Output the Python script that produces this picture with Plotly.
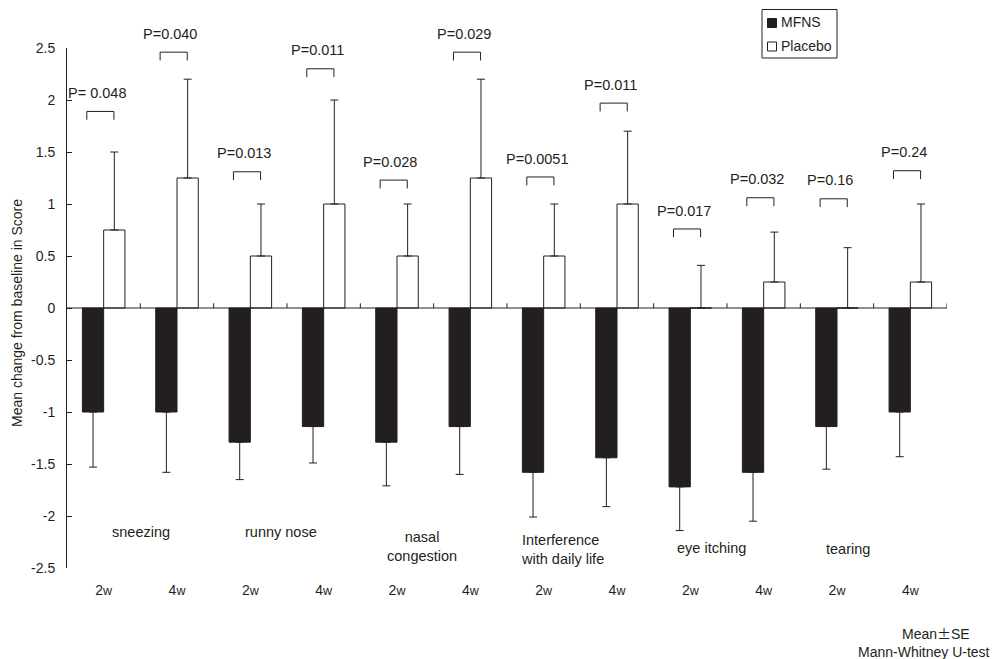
import plotly.graph_objects as go

# Symptom score change from baseline, MFNS vs placebo, at 2 and 4 weeks
time_labels = ["2w", "4w"] * 6
symptoms = ["sneezing", "runny nose", "nasal<br>congestion",
            "Interference<br>with daily life", "eye itching", "tearing"]

mfns_mean = [-1.0, -1.0, -1.29, -1.14, -1.29, -1.14, -1.58, -1.44, -1.72, -1.58, -1.14, -1.0]
mfns_se = [0.53, 0.58, 0.36, 0.35, 0.42, 0.46, 0.43, 0.47, 0.42, 0.47, 0.41, 0.43]

placebo_mean = [0.75, 1.25, 0.5, 1.0, 0.5, 1.25, 0.5, 1.0, 0.0, 0.25, 0.0, 0.25]
placebo_se = [0.75, 0.95, 0.5, 1.0, 0.5, 0.95, 0.5, 0.70, 0.41, 0.48, 0.58, 0.75]

p_values = ["P= 0.048", "P=0.040", "P=0.013", "P=0.011", "P=0.028", "P=0.029",
            "P=0.0051", "P=0.011", "P=0.017", "P=0.032", "P=0.16", "P=0.24"]
bracket_level = [1.89, 2.46, 1.31, 2.30, 1.23, 2.46, 1.26, 1.97, 0.76, 1.06, 1.05, 1.32]

y_ticks = [2.5, 2, 1.5, 1, 0.5, 0, -0.5, -1, -1.5, -2, -2.5]
y_ticktext = ["2.5", "2", "1.5", "1", "0.5", "0", "-0.5", "-1", "-1.5", "-2", "-2.5"]

INK = "#231f20"
FONT = "Liberation Sans, Arial, Helvetica, sans-serif"
W, H = 994, 659
ML, MR, MT, MB = 67, 47, 48, 91
Y_MIN, Y_MAX = -2.5, 2.5

x = list(range(len(time_labels)))


def paper_x(px):
    return (px - ML) / (W - ML - MR)


def paper_y(py):
    return (H - MB - py) / (H - MT - MB)


def value_to_paper(v):
    return (v - Y_MIN) / (Y_MAX - Y_MIN)


fig = go.Figure()
fig.add_trace(go.Bar(
    x=x, y=mfns_mean, name="MFNS",
    marker=dict(color=INK, line=dict(color=INK, width=1)),
    error_y=dict(type="data", symmetric=False, array=[0] * len(mfns_se),
                 arrayminus=mfns_se, color=INK, thickness=1, width=4),
    showlegend=False,
))
fig.add_trace(go.Bar(
    x=x, y=placebo_mean, name="Placebo",
    marker=dict(color="white", line=dict(color=INK, width=1)),
    error_y=dict(type="data", symmetric=False, array=placebo_se,
                 arrayminus=[0] * len(placebo_se), color=INK, thickness=1, width=4),
    showlegend=False,
))

shapes = []
annotations = []

# zero baseline with small upward ticks between the time points
shapes.append(dict(type="line", xref="x", yref="y", x0=-0.5, x1=len(x) - 0.5,
                   y0=0, y1=0, line=dict(color=INK, width=1)))
for k in range(1, len(x) + 1):
    shapes.append(dict(type="line", xref="x", yref="y", x0=k - 0.5, x1=k - 0.5,
                       y0=0, y1=0.045, line=dict(color=INK, width=1)))

# significance brackets and P values
leg = 0.08
for i, (p, lvl) in enumerate(zip(p_values, bracket_level)):
    x0, x1 = i - 0.23, i + 0.14
    shapes.append(dict(type="path", xref="x", yref="y",
                       path=f"M {x0},{lvl - leg} L {x0},{lvl} L {x1},{lvl} L {x1},{lvl - leg}",
                       line=dict(color=INK, width=1)))
    annotations.append(dict(x=i - 0.09, y=value_to_paper(lvl + 0.08), xref="x", yref="paper",
                            text=p, showarrow=False, xanchor="center", yanchor="bottom",
                            font=dict(family=FONT, size=14.5, color=INK)))

# symptom names under each pair of bars
label_pos = [(0.51, -2.15, "center"), (2.42, -2.15, "center"), (4.34, -2.29, "center"),
             (5.67, -2.32, "left"), (8.29, -2.31, "center"), (10.15, -2.32, "center")]
for name, (lx, ly, anchor) in zip(symptoms, label_pos):
    annotations.append(dict(x=lx, y=ly, xref="x", yref="y", text=name, showarrow=False,
                            xanchor=anchor, yanchor="middle",
                            align="left" if anchor == "left" else "center",
                            font=dict(family=FONT, size=14.5, color=INK)))

# y-axis title
annotations.append(dict(x=paper_x(17), y=paper_y(313), xref="paper", yref="paper",
                        text="Mean change from baseline in Score", textangle=-90,
                        showarrow=False, xanchor="center", yanchor="middle",
                        font=dict(family=FONT, size=14, color=INK)))

# footnotes
annotations.append(dict(x=paper_x(936), y=paper_y(633), xref="paper", yref="paper",
                        text="Mean<span style='font-family:Noto Sans CJK JP'>±</span>SE",
                        showarrow=False, xanchor="center", yanchor="middle",
                        font=dict(family=FONT, size=14, color=INK)))
annotations.append(dict(x=paper_x(992), y=paper_y(652), xref="paper", yref="paper",
                        text="Mann-Whitney U-test", showarrow=False, xanchor="right",
                        yanchor="middle", font=dict(family=FONT, size=14, color=INK)))

# legend box
shapes.append(dict(type="rect", xref="paper", yref="paper",
                   x0=paper_x(762), x1=paper_x(837), y0=paper_y(58), y1=paper_y(9.5),
                   line=dict(color=INK, width=1), fillcolor="white"))
for name, fill, sy in [("MFNS", INK, 23), ("Placebo", "white", 46.5)]:
    shapes.append(dict(type="rect", xref="paper", yref="paper",
                       x0=paper_x(767.5), x1=paper_x(776.5), y0=paper_y(sy + 4.5), y1=paper_y(sy - 4.5),
                       line=dict(color=INK, width=1), fillcolor=fill))
    annotations.append(dict(x=paper_x(779), y=paper_y(sy - 1), xref="paper", yref="paper",
                            text=name, showarrow=False, xanchor="left", yanchor="middle",
                            font=dict(family=FONT, size=14, color=INK)))

tick_text = [f"{t[0]}<span style='font-size:12.5px'>{t[1]}</span>" for t in time_labels]

fig.update_layout(
    width=W, height=H,
    margin=dict(l=ML, r=MR, t=MT, b=MB),
    paper_bgcolor="white", plot_bgcolor="white",
    barmode="group", bargap=0.42, bargroupgap=0,
    shapes=shapes, annotations=annotations,
    font=dict(family=FONT, size=14, color=INK),
    xaxis=dict(range=[-0.5, len(x) - 0.5], tickvals=x, ticktext=tick_text,
               showgrid=False, zeroline=False, showline=False,
               ticks="outside", ticklen=9, tickcolor="rgba(0,0,0,0)",
               tickfont=dict(family=FONT, size=14, color=INK)),
    yaxis=dict(range=[Y_MIN, Y_MAX], tickvals=y_ticks, ticktext=y_ticktext,
               showgrid=False, zeroline=False, showline=True, linecolor=INK, linewidth=1,
               ticks="inside", ticklen=5, tickcolor=INK, ticklabelstandoff=8,
               tickfont=dict(family=FONT, size=14, color=INK)),
)

fig.write_html("out.html")
